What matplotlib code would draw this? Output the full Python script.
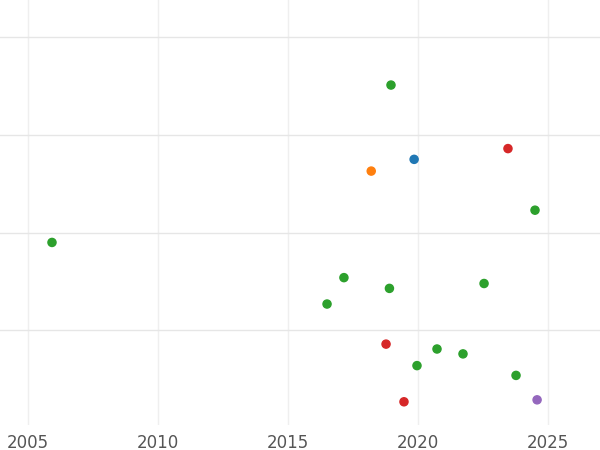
import matplotlib.pyplot as plt

# point data
years = [2005.92, 2018.96, 2019.85, 2018.2, 2023.46, 2024.5, 2017.15, 2016.5,
         2018.9, 2022.54, 2018.77, 2020.73, 2021.73, 2019.96, 2023.77, 2019.46, 2024.58]
values = [0.90, 2.51, 1.75, 1.63, 1.86, 1.23, 0.54, 0.27,
          0.43, 0.48, -0.14, -0.19, -0.24, -0.36, -0.46, -0.73, -0.71]
groups = ['g', 'g', 'b', 'o', 'r', 'g', 'g', 'g',
          'g', 'g', 'r', 'g', 'g', 'g', 'g', 'r', 'p']
palette = {'g': '#2ca02c', 'b': '#1f77b4', 'o': '#ff7f0e', 'r': '#d62728', 'p': '#9467bd'}
xticks = [2005, 2010, 2015, 2020, 2025]

fig = plt.figure(figsize=(6, 4.5), dpi=100)
ax = fig.add_axes([0, 0.055, 1, 0.945])
ax.scatter(years, values, c=[palette[g] for g in groups], s=34, zorder=3)

ax.set_xlim(2003.92, 2027)
ax.set_ylim(-0.97, 3.38)
ax.set_xticks(xticks)
ax.set_yticks([0, 1, 2, 3])
ax.set_yticklabels([])
ax.grid(True, axis='y', color='#e6e6e6', linewidth=1)
ax.grid(True, axis='x', color='#efefef', linewidth=1)
ax.tick_params(axis='x', length=0, labelsize=12, labelcolor='#555555', pad=6)
ax.tick_params(axis='y', length=0)
for s in ax.spines.values():
    s.set_visible(False)

fig.savefig('out.png', dpi=100)
